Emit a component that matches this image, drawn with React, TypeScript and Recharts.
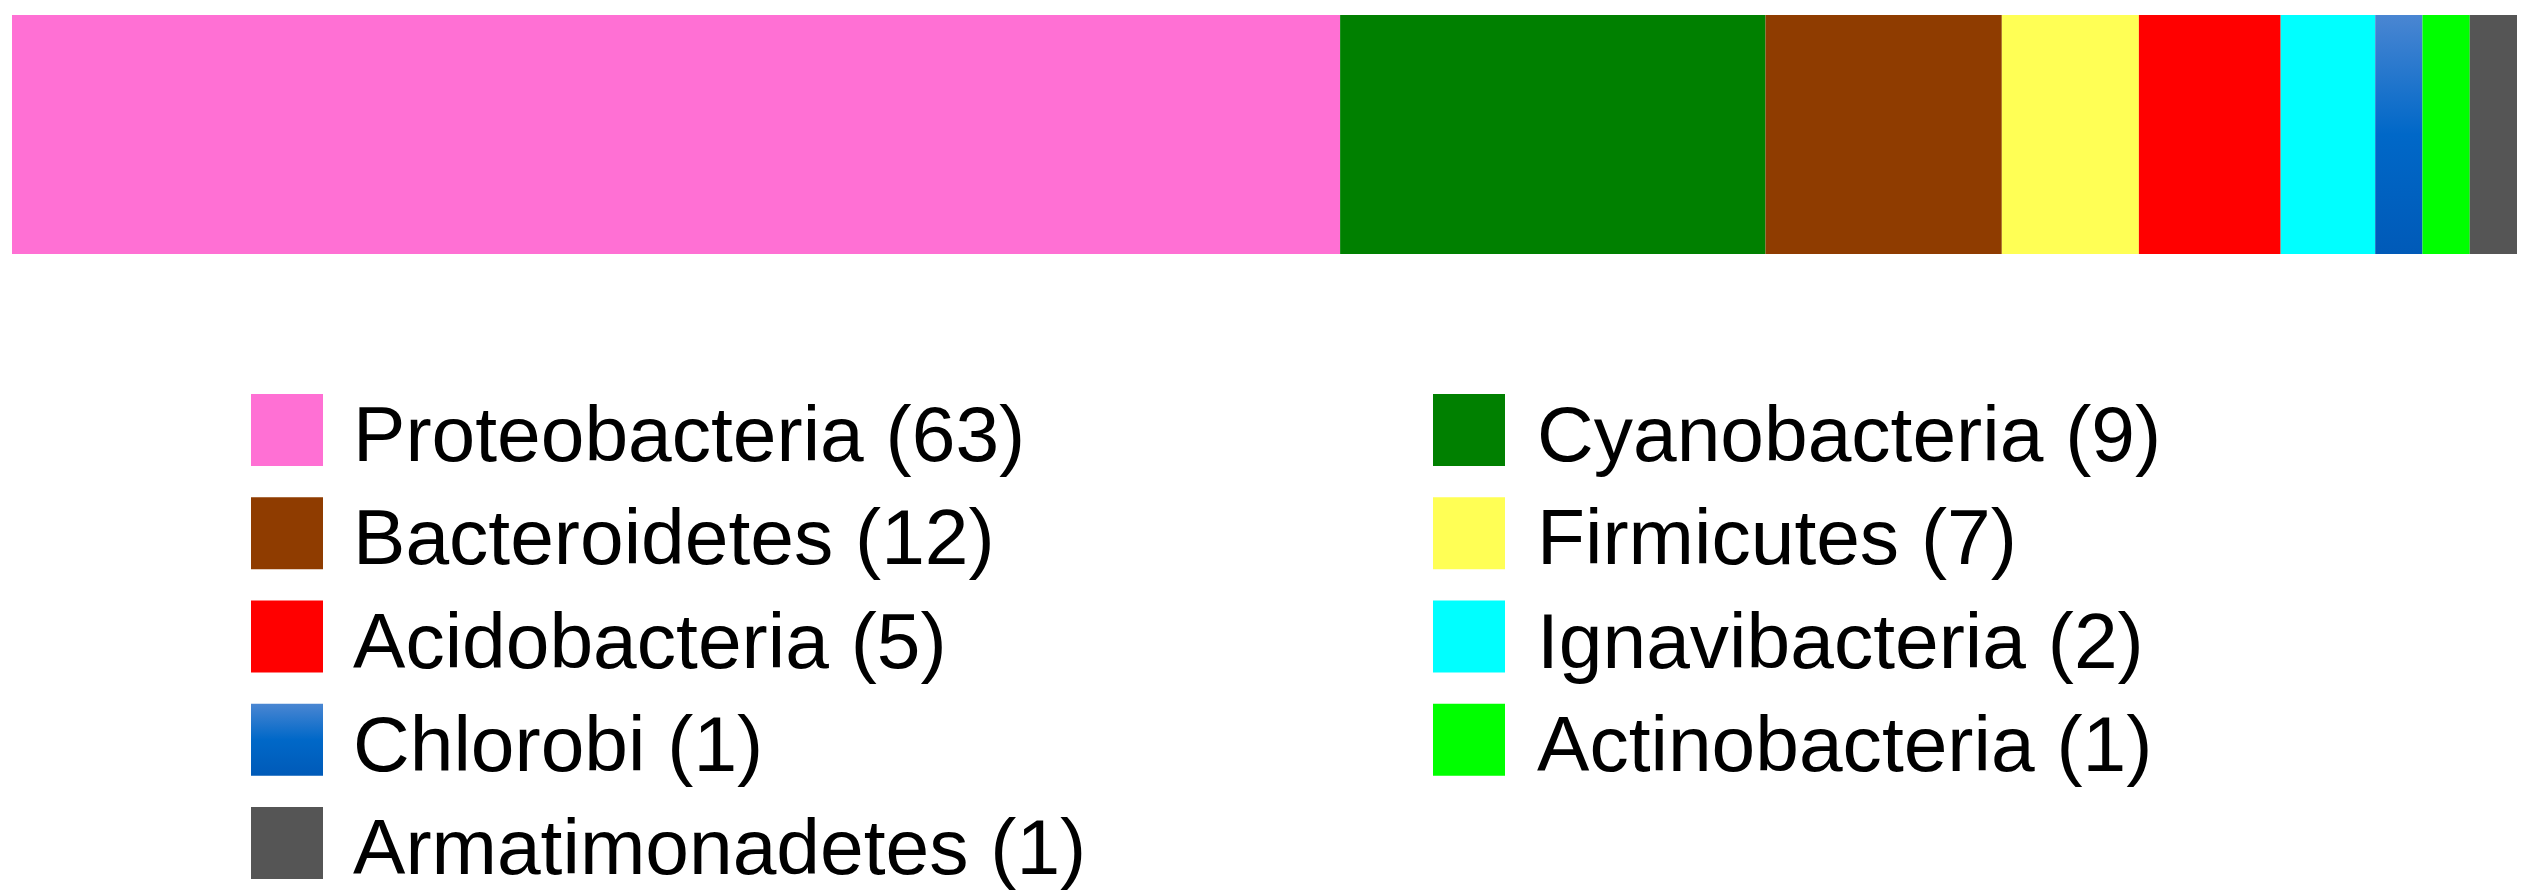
import { BarChart, Bar, XAxis, YAxis, Legend } from 'recharts'

// phyla in bar order (left to right)
const phyla = [
  'Proteobacteria',
  'Cyanobacteria',
  'Bacteroidetes',
  'Firmicutes',
  'Acidobacteria',
  'Ignavibacteria',
  'Chlorobi',
  'Actinobacteria',
  'Armatimonadetes',
]

// counts shown in the legend labels
const counts = [63, 9, 12, 7, 5, 2, 1, 1, 1]

// bar segment sizes
const shares = [28.1, 9.0, 5.0, 2.9, 3.0, 2.0, 1.0, 1.0, 1.0]

const colors = [
  '#ff70d4',
  '#008000',
  '#8f3c00',
  '#ffff55',
  '#ff0000',
  '#00ffff',
  'url(#chlorobiGrad)',
  '#00ff00',
  '#555555',
]

const row: any = { name: 'phyla' }
phyla.forEach((p, i) => {
  row[p] = shares[i]
})
const data = [row]
const total = shares.reduce((a, b) => a + b, 0)

const FONT = "'Liberation Sans Narrow', 'Liberation Sans', Arial, sans-serif"

function PhylaLegend() {
  return (
    <svg width={2529} height={520} style={{ display: 'block' }}>
      <defs>
        <linearGradient id="chlorobiLegGrad" x1="0" y1="0" x2="0" y2="1">
          <stop offset="0%" stopColor="#4a86d2" />
          <stop offset="50%" stopColor="#0068c8" />
          <stop offset="100%" stopColor="#005ab8" />
        </linearGradient>
      </defs>
      {phyla.map((p, i) => {
        const r = Math.floor(i / 2)
        const c = i % 2
        const sx = c === 0 ? 251 : 1433
        const tx = c === 0 ? 353 : 1537
        const top = 24 + r * 103.25
        const fill =
          p === 'Chlorobi' ? 'url(#chlorobiLegGrad)' : colors[i]
        return (
          <g key={p}>
            <rect x={sx} y={top} width={72} height={72} fill={fill} />
            <text
              x={0}
              y={0}
              fontFamily={FONT}
              fontSize={77}
              fill="#000"
              transform={`translate(${tx},${top + 67}) scale(1.02,1)`}
            >
              {`${p} (${counts[i]})`}
            </text>
          </g>
        )
      })}
    </svg>
  )
}

export default function App() {
  return (
    <div
      style={{
        position: 'absolute',
        left: 0,
        top: 0,
        width: 2529,
        height: 890,
        background: '#fff',
      }}
    >
      <BarChart
        width={2529}
        height={890}
        data={data}
        layout="vertical"
        barCategoryGap={0}
        margin={{ top: 15, right: 12, bottom: 636, left: 12 }}
      >
        <defs>
          <linearGradient id="chlorobiGrad" x1="0" y1="0" x2="0" y2="1">
            <stop offset="0%" stopColor="#4a86d2" />
            <stop offset="50%" stopColor="#0068c8" />
            <stop offset="100%" stopColor="#005ab8" />
          </linearGradient>
        </defs>
        <XAxis type="number" hide domain={[0, total]} />
        <YAxis type="category" dataKey="name" hide />
        {phyla.map((p, i) => (
          <Bar
            key={p}
            dataKey={p}
            stackId="a"
            fill={colors[i]}
            isAnimationActive={false}
          />
        ))}
        <Legend
          layout="vertical"
          align="center"
          verticalAlign="middle"
          wrapperStyle={{ position: 'absolute', left: 0, top: 370, width: 2529 }}
          content={() => <PhylaLegend />}
        />
      </BarChart>
    </div>
  )
}
